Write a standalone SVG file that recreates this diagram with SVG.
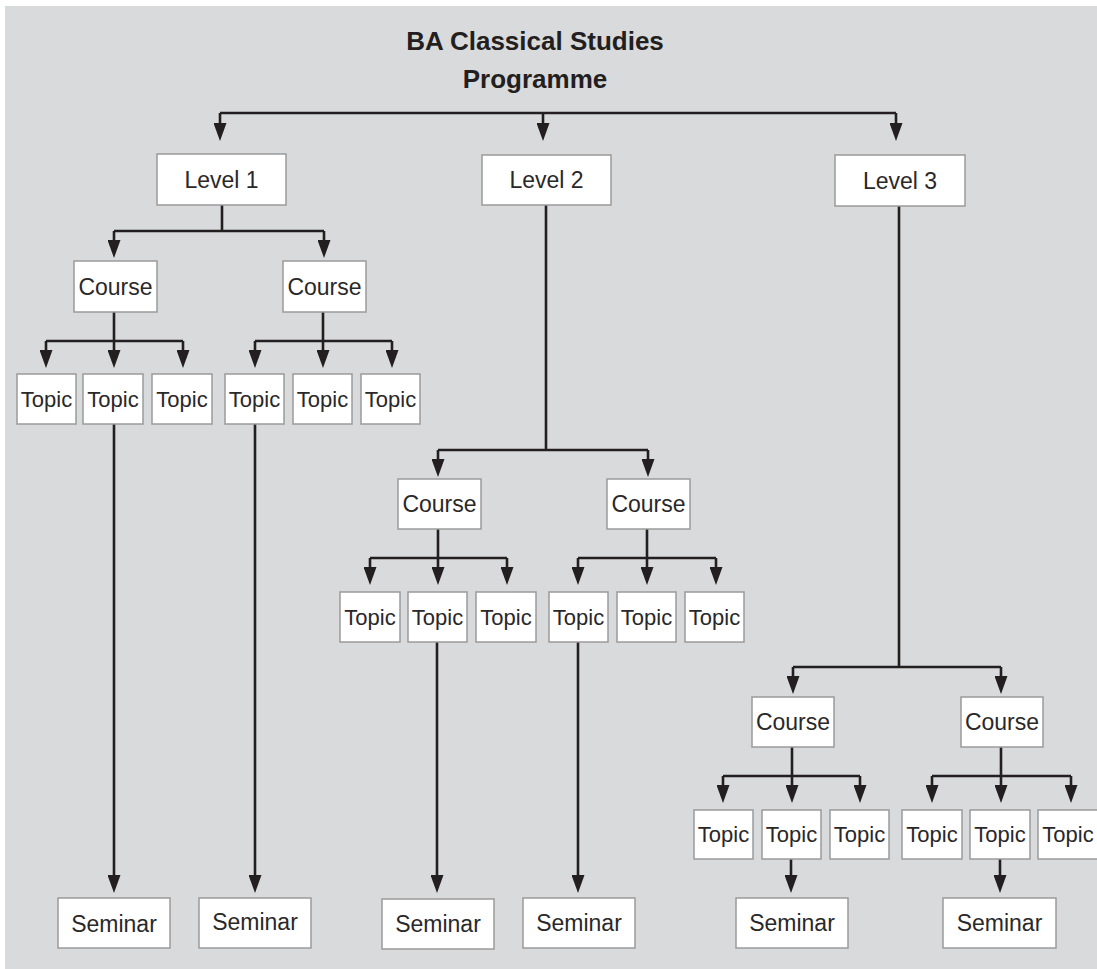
<svg xmlns="http://www.w3.org/2000/svg" width="1097" height="969" viewBox="0 0 1097 969">
<defs>
<marker id="ah" markerUnits="userSpaceOnUse" markerWidth="18" markerHeight="13" viewBox="0 0 18 13" refX="12" refY="6.5" orient="auto">
<path d="M0,0 L18,6.5 L0,13 Z" fill="#231f20"/>
</marker>
<style>
.box{fill:#fff;stroke:#9b9b9b;stroke-width:1.5}
.t{font-family:"Liberation Sans",Arial,sans-serif;font-size:23px;fill:#2a2829;text-anchor:middle}
.tp{font-size:22px}
.title{font-family:"Liberation Sans",Arial,sans-serif;font-size:26px;font-weight:bold;fill:#231f20;text-anchor:middle}
.ln{fill:none;stroke:#231f20;stroke-width:2.6}
.ar{fill:none;stroke:#231f20;stroke-width:2.6;marker-end:url(#ah)}
</style>
</defs>
<rect x="0" y="0" width="1097" height="969" fill="#ffffff"/>
<rect x="5" y="6" width="1092" height="963" fill="#d9dadc"/>
<g id="title">
<text class="title" x="535" y="50">BA Classical Studies</text>
<text class="title" x="535" y="88">Programme</text>
</g>
<g id="connectors">
<path class="ln" d="M220,113 H896"/>
<path class="ar" d="M220,113 V135"/>
<path class="ar" d="M543,113 V135"/>
<path class="ar" d="M896,113 V135"/>
<path class="ln" d="M222,205 V231 M114,231 H324"/>
<path class="ar" d="M114,231 V252"/>
<path class="ar" d="M324,231 V252"/>
<path class="ln" d="M114,312 V341 M46,341 H183"/>
<path class="ln" d="M323,312 V341 M255,341 H392"/>
<path class="ar" d="M46,341 V362"/>
<path class="ar" d="M114,341 V362"/>
<path class="ar" d="M183,341 V362"/>
<path class="ar" d="M255,341 V362"/>
<path class="ar" d="M323,341 V362"/>
<path class="ar" d="M392,341 V362"/>
<path class="ar" d="M114,424 V887"/>
<path class="ar" d="M255,424 V887"/>
<path class="ln" d="M546,205 V450 M438,450 H648"/>
<path class="ar" d="M438,450 V471"/>
<path class="ar" d="M648,450 V471"/>
<path class="ln" d="M438,529 V558 M370,558 H507"/>
<path class="ln" d="M647,529 V558 M578,558 H716"/>
<path class="ar" d="M370,558 V579"/>
<path class="ar" d="M438,558 V579"/>
<path class="ar" d="M507,558 V579"/>
<path class="ar" d="M578,558 V579"/>
<path class="ar" d="M647,558 V579"/>
<path class="ar" d="M716,558 V579"/>
<path class="ar" d="M437,642 V887"/>
<path class="ar" d="M578,642 V887"/>
<path class="ln" d="M899,206 V667 M793,667 H1001"/>
<path class="ar" d="M793,667 V688"/>
<path class="ar" d="M1001,667 V688"/>
<path class="ln" d="M792,747 V776 M723,776 H860"/>
<path class="ln" d="M1001,747 V776 M932,776 H1071"/>
<path class="ar" d="M723,776 V797"/>
<path class="ar" d="M792,776 V797"/>
<path class="ar" d="M860,776 V797"/>
<path class="ar" d="M932,776 V797"/>
<path class="ar" d="M1001,776 V797"/>
<path class="ar" d="M1071,776 V797"/>
<path class="ar" d="M791,859 V887"/>
<path class="ar" d="M1000,859 V887"/>
</g>
<g id="level1"><rect class="box" x="157" y="154" width="129" height="51"/><text class="t" x="221.5" y="188">Level 1</text></g>
<g id="level2"><rect class="box" x="482" y="155" width="129" height="50"/><text class="t" x="546.5" y="188">Level 2</text></g>
<g id="level3"><rect class="box" x="835" y="155" width="130" height="51"/><text class="t" x="900" y="189">Level 3</text></g>

<g id="course-1a"><rect class="box" x="74" y="261" width="83" height="51"/><text class="t" x="115.5" y="295">Course</text></g>
<g id="course-1b"><rect class="box" x="283" y="261" width="83" height="51"/><text class="t" x="324.5" y="295">Course</text></g>
<g id="course-2a"><rect class="box" x="398" y="479" width="83" height="50"/><text class="t" x="439.5" y="512">Course</text></g>
<g id="course-2b"><rect class="box" x="607" y="479" width="83" height="50"/><text class="t" x="648.5" y="512">Course</text></g>
<g id="course-3a"><rect class="box" x="752" y="697" width="82" height="50"/><text class="t" x="793" y="730">Course</text></g>
<g id="course-3b"><rect class="box" x="961" y="697" width="82" height="50"/><text class="t" x="1002" y="730">Course</text></g>

<g id="topic-1a1"><rect class="box" x="17" y="374" width="59" height="50"/><text class="t tp" x="46.5" y="407">Topic</text></g>
<g id="topic-1a2"><rect class="box" x="83" y="374" width="60" height="50"/><text class="t tp" x="113" y="407">Topic</text></g>
<g id="topic-1a3"><rect class="box" x="152" y="374" width="60" height="50"/><text class="t tp" x="182" y="407">Topic</text></g>
<g id="topic-1b1"><rect class="box" x="225" y="374" width="59" height="50"/><text class="t tp" x="254.5" y="407">Topic</text></g>
<g id="topic-1b2"><rect class="box" x="293" y="374" width="59" height="50"/><text class="t tp" x="322.5" y="407">Topic</text></g>
<g id="topic-1b3"><rect class="box" x="361" y="374" width="59" height="50"/><text class="t tp" x="390.5" y="407">Topic</text></g>

<g id="topic-2a1"><rect class="box" x="340" y="592" width="60" height="50"/><text class="t tp" x="370" y="625">Topic</text></g>
<g id="topic-2a2"><rect class="box" x="408" y="592" width="59" height="50"/><text class="t tp" x="437.5" y="625">Topic</text></g>
<g id="topic-2a3"><rect class="box" x="476" y="592" width="60" height="50"/><text class="t tp" x="506" y="625">Topic</text></g>
<g id="topic-2b1"><rect class="box" x="549" y="592" width="59" height="50"/><text class="t tp" x="578.5" y="625">Topic</text></g>
<g id="topic-2b2"><rect class="box" x="617" y="592" width="59" height="50"/><text class="t tp" x="646.5" y="625">Topic</text></g>
<g id="topic-2b3"><rect class="box" x="685" y="592" width="59" height="50"/><text class="t tp" x="714.5" y="625">Topic</text></g>

<g id="topic-3a1"><rect class="box" x="694" y="810" width="59" height="49"/><text class="t tp" x="723.5" y="842">Topic</text></g>
<g id="topic-3a2"><rect class="box" x="762" y="810" width="59" height="49"/><text class="t tp" x="791.5" y="842">Topic</text></g>
<g id="topic-3a3"><rect class="box" x="830" y="810" width="59" height="49"/><text class="t tp" x="859.5" y="842">Topic</text></g>
<g id="topic-3b1"><rect class="box" x="902" y="810" width="60" height="49"/><text class="t tp" x="932" y="842">Topic</text></g>
<g id="topic-3b2"><rect class="box" x="970" y="810" width="60" height="49"/><text class="t tp" x="1000" y="842">Topic</text></g>
<g id="topic-3b3"><rect class="box" x="1038" y="810" width="60" height="49"/><text class="t tp" x="1068" y="842">Topic</text></g>

<g id="seminar-1"><rect class="box" x="58" y="898" width="112" height="50"/><text class="t" x="114" y="932">Seminar</text></g>
<g id="seminar-2"><rect class="box" x="199" y="898" width="112" height="50"/><text class="t" x="255" y="930">Seminar</text></g>
<g id="seminar-3"><rect class="box" x="382" y="899" width="112" height="50"/><text class="t" x="438" y="932">Seminar</text></g>
<g id="seminar-4"><rect class="box" x="523" y="898" width="112" height="50"/><text class="t" x="579" y="931">Seminar</text></g>
<g id="seminar-5"><rect class="box" x="736" y="898" width="112" height="50"/><text class="t" x="792" y="931">Seminar</text></g>
<g id="seminar-6"><rect class="box" x="943" y="898" width="113" height="50"/><text class="t" x="999.5" y="931">Seminar</text></g>
</svg>
